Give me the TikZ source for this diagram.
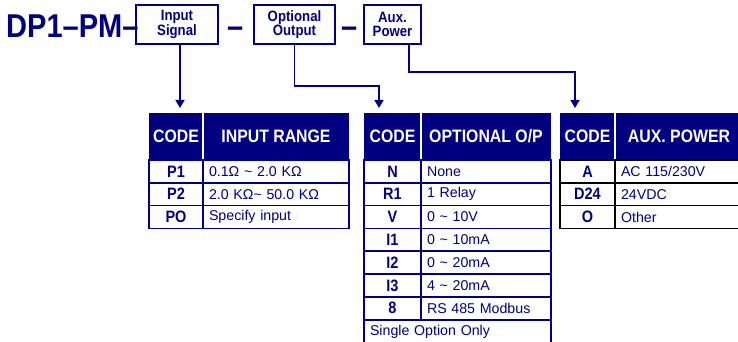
\documentclass[tikz,border=0pt]{standalone}
\usepackage{fontspec}
\setmainfont{Liberation Sans}
\newfontfamily\narrowsans[FakeStretch=0.88]{Liberation Sans}
\usepackage{tikz}
\usetikzlibrary{arrows.meta, positioning}
\definecolor{navy}{RGB}{0,0,128}

\begin{document}
\begin{tikzpicture}[x=1pt, y=-1pt,
  selbox/.style={draw=navy, line width=1.8pt, inner sep=0pt, minimum height=39pt,
    text=navy, align=center, font=\narrowsans\bfseries\fontsize{15}{14.5}\selectfont},
  bigtxt/.style={anchor=base west, inner sep=0pt, text=navy,
    font=\narrowsans\bfseries\fontsize{33}{33}\selectfont},
  hdr/.style={fill=navy, text=white, inner sep=0pt, minimum height=47pt,
    font=\narrowsans\bfseries\fontsize{18}{19}\selectfont},
  codecell/.style={draw, line width=1.6pt, inner sep=0pt, minimum height=22.8pt,
    text=navy, font=\narrowsans\bfseries\fontsize{16.5}{17}\selectfont},
  textcell/.style={draw, line width=1.6pt, inner xsep=6pt, inner ysep=0pt,
    minimum height=22.8pt, text=navy, align=left, font=\fontsize{14.2}{15}\selectfont},
  conn/.style={draw=navy, line width=1.5pt, -{Triangle[width=9pt,length=8pt]}, shorten >=5pt}]
  \useasboundingbox (0,0) rectangle (738,342);
  \clip (0,0) rectangle (738,342);

  % model code
  \node[bigtxt] (model) at (6,38) {DP1–PM–};
  \node[selbox, minimum width=82pt] (insig) at (177,24.5) {Input\\Signal};
  \node[bigtxt] (sepa) at (227,38) {–};
  \node[selbox, minimum width=81pt] (optout) at (294.5,24.5) {Optional\\Output};
  \node[bigtxt] (sepb) at (341,38) {–};
  \node[selbox, minimum width=57pt] (auxpwr) at (392.5,24.5) {Aux.\\Power};

  % input range table
  \node[hdr, minimum width=54pt] (inhead) at (176,136.5) {CODE};
  \node[hdr, minimum width=146pt] (inrange) at (276,136.5) {INPUT RANGE};
  \draw[white, line width=1.5pt] (inhead.north east) -- (inhead.south east);
  \foreach \code/\desc [count=\i] in {P1/{0.1Ω \textasciitilde{} 2.0 KΩ},
      P2/{2.0 KΩ\textasciitilde{} 50.0 KΩ}, PO/{Specify input}} {
    \node[codecell, draw=navy, minimum width=54pt] (incode\i) at (176,{148.6+22.8*\i}) {\code};
    \node[textcell, draw=navy, text width=134pt] (indesc\i) at (276,{148.6+22.8*\i}) {\desc};
  }

  % optional output table
  \node[hdr, minimum width=57pt] (outhead) at (392.5,136.5) {CODE};
  \node[hdr, minimum width=130pt] (outopt) at (486,136.5) {OPTIONAL O/P};
  \draw[white, line width=1.5pt] (outhead.north east) -- (outhead.south east);
  \foreach \code/\desc [count=\i] in {N/None, R1/1 Relay, V/{0 \textasciitilde{} 10V},
      I1/{0 \textasciitilde{} 10mA}, I2/{0 \textasciitilde{} 20mA}, I3/{4 \textasciitilde{} 20mA},
      8/RS 485 Modbus} {
    \node[codecell, draw=navy, minimum width=57pt] (outcode\i) at (392.5,{148.6+22.8*\i}) {\code};
    \node[textcell, draw=navy, text width=118pt] (outdesc\i) at (486,{148.6+22.8*\i}) {\desc};
  }
  \node[textcell, draw=navy, text width=175pt] (outnote) at (457.5,331.4) {Single Option Only};

  % aux power table
  \node[hdr, minimum width=55pt] (pwrhead) at (587.5,136.5) {CODE};
  \node[hdr, minimum width=128pt] (pwrsup) at (679,136.5) {AUX. POWER};
  \draw[white, line width=1.5pt] (pwrhead.north east) -- (pwrhead.south east);
  \foreach \code/\desc [count=\i] in {A/{AC 115/230V}, D24/24VDC, O/Other} {
    \node[codecell, draw=black, minimum width=55pt] (pwrcode\i) at (587.5,{148.6+22.8*\i}) {\code};
    \node[textcell, draw=black, text width=116pt] (pwrdesc\i) at (679,{148.6+22.8*\i}) {\desc};
  }

  % connectors
  \coordinate (inin) at (180,113);
  \coordinate (outin) at (379,113);
  \coordinate (pwrout) at (409,44);
  \coordinate (pwrin) at (575,113);
  \draw[conn] (insig.south -| inin) -- (inin);
  \draw[conn] (optout.south) -- ++(0,41) -| (outin);
  \draw[conn] (auxpwr.south -| pwrout) -- ++(0,27) -| (pwrin);
\end{tikzpicture}
\end{document}
